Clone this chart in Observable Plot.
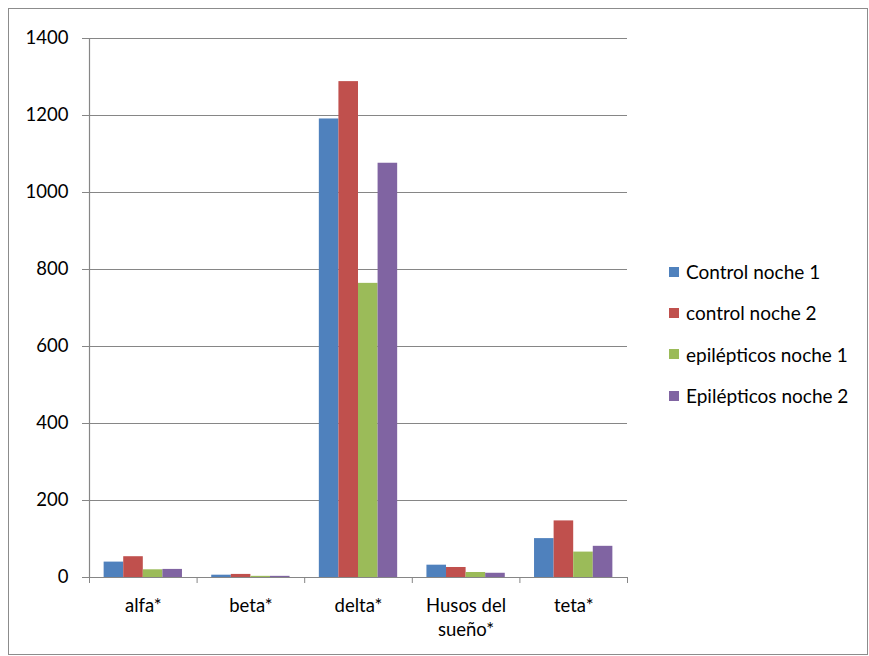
<!DOCTYPE html>
<html>
<head>
<meta charset="utf-8">
<script src="https://cdn.jsdelivr.net/npm/d3@7"></script>
<script src="https://cdn.jsdelivr.net/npm/@observablehq/plot@0.6"></script>
<style>
  body { margin: 0; background: #fff; }
  #wrap { position: relative; width: 869px; height: 656px; font-family: Lato, "Open Sans", sans-serif; }
  #frame { position: absolute; left: 8px; top: 8px; width: 860px; height: 647px; border: 1px solid #8c8c8c; box-sizing: border-box; pointer-events: none; }
  #legend { position: absolute; left: 669px; top: 251px; font-size: 19px; color: #000; }
  #legend .row { display: flex; align-items: center; height: 41.3px; white-space: nowrap; }
  #legend .sw { width: 10px; height: 10px; margin-right: 7px; }
  svg { display: block; }
</style>
</head>
<body>
<div id="wrap"><div id="chart"></div><div id="legend"></div><div id="frame"></div></div>
<script>
// EEG band power per group and recording night
const categories = ["alfa*", "beta*", "delta*", "Husos del\nsueño*", "teta*"];
const series = ["Control noche 1", "control noche 2", "epilépticos noche 1", "Epilépticos noche 2"];
const colors = ["#4F81BD", "#C0504D", "#9BBB59", "#8064A2"];

const controlNoche1 = [40, 6, 1191, 32, 101];
const controlNoche2 = [54, 8, 1288, 26, 147];
const epilepticosNoche1 = [20, 3, 764, 13, 66];
const epilepticosNoche2 = [21, 3, 1076, 11, 81];

const yTicks = [0, 200, 400, 600, 800, 1000, 1200, 1400];

const values = [controlNoche1, controlNoche2, epilepticosNoche1, epilepticosNoche2];

// one row per bar; x runs in category units, bars grouped inside each unit
const barW = 0.182, groupPad = (1 - barW * series.length) / 2;
const rows = categories.flatMap((c, ci) =>
  series.map((s, si) => ({
    category: c,
    series: s,
    value: values[si][ci],
    x1: ci + groupPad + si * barW,
    x2: ci + groupPad + (si + 1) * barW
  }))
);

const gray = "#868686";

const chart = Plot.plot({
  width: 869,
  height: 656,
  marginLeft: 89,
  marginRight: 242,
  marginTop: 38,
  marginBottom: 79,
  style: { fontFamily: "Lato, 'Open Sans', sans-serif", fontSize: "18.5px", color: "#000", background: "#fff" },
  x: { domain: [0, categories.length], axis: null },
  y: { domain: [0, 1400], axis: null },
  color: { domain: series, range: colors },
  marks: [
    Plot.ruleY(yTicks, { stroke: gray, strokeWidth: 1.2, strokeOpacity: 1 }),
    Plot.rectY(rows, { x1: "x1", x2: "x2", y1: 0, y2: "value", fill: "series", inset: 0 }),
    Plot.ruleX([0], { y1: 0, y2: 1400, stroke: gray, strokeWidth: 1.2 }),
    Plot.axisY({ ticks: yTicks, tickSize: 7, tickPadding: 14, label: null, stroke: gray, strokeOpacity: 1, tickFormat: d => String(d), fontSize: 18.5 }),
    Plot.axisX({ ticks: d3.range(categories.length + 1), tickSize: 6, label: null, tickFormat: () => "", stroke: gray, strokeOpacity: 1 }),
    Plot.text(categories, { x: (d, i) => i + 0.5, y: 0, dy: 17, lineAnchor: "top", fontSize: 18.5, lineHeight: 1.3 })
  ]
});
document.getElementById("chart").append(chart);

// legend swatches on the right
const legend = d3.select("#legend");
series.forEach((s, i) => {
  const row = legend.append("div").attr("class", "row");
  row.append("div").attr("class", "sw").style("background", colors[i]);
  row.append("span").text(s);
});
</script>
</body>
</html>
